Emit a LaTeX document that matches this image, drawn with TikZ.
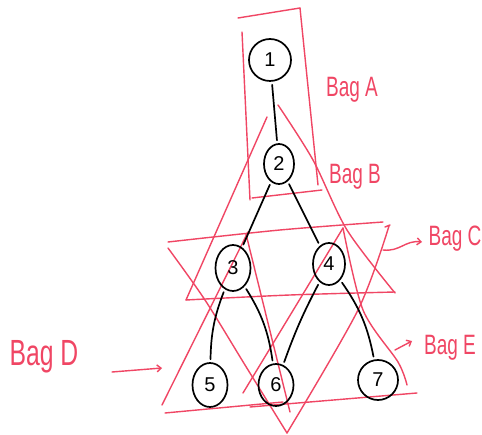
\documentclass[tikz,border=0pt]{standalone}
\usepackage{fontspec}
\setmainfont{Liberation Sans}
\usetikzlibrary{shapes.geometric,arrows.meta}
\definecolor{bagred}{RGB}{240,70,100}
\newcommand{\bagtxt}[1]{\scalebox{0.95}[1.4]{#1}}
\begin{document}
\begin{tikzpicture}[x=1pt,y=-1pt,
  bagline/.style={draw=bagred,line width=1.4pt,line cap=round,line join=round},
  vert/.style={ellipse,draw=black,line width=1.7pt,inner sep=0pt,font=\fontsize{20}{20}\selectfont},
  edge/.style={draw=black,line width=1.7pt,line cap=round,shorten >=3pt,shorten <=3pt},
  baglabel/.style={text=bagred,font=\fontsize{20}{20}\selectfont,inner sep=0pt},
  bagarrow/.style={bagline,-{Straight Barb[length=4pt,width=7pt]}}]
\useasboundingbox (0,0) rectangle (482,435);
\fill[white] (0,0) rectangle (482,435);

% Bag A (rectangle)
\draw[bagline] (238,18) -- (300,8);
\draw[bagline] (242,32) -- (250,200);
\draw[bagline] (300,8) -- (318,185);
\draw[bagline] (252,198) -- (322,190);

% Bag B (triangle 2,3,4)
\draw[bagline] (267,117) -- (186,300);
\draw[bagline] plot[smooth] coordinates {(278,105) (313,160) (347,230) (395,293)};
\draw[bagline] plot[smooth] coordinates {(186,300) (290,295) (395,292)};

% Bag C (inverted triangle 3,4,6)
\draw[bagline] plot[smooth] coordinates {(168,242) (280,230) (383,222)};
\draw[bagline] plot[smooth] coordinates {(168,248) (205,300) (245,365) (287,433)};
\draw[bagline] (385,227) -- (390,225);
\draw[bagline] plot[smooth] coordinates {(389,226) (358,310) (287,433)};

% Bag D (triangle 3,5,6)
\draw[bagline] (248,232) -- (162,405);
\draw[bagline] (246,234) -- (290,412);
\draw[bagline] (165,413) -- (283,402);

% Bag E (triangle 4,6,7)
\draw[bagline] (343,228) -- (243,393);
\draw[bagline] plot[smooth] coordinates {(343,228) (363,310) (398,362) (407,385)};
\draw[bagline] (250,407) -- (417,393);

% vertices
\node[vert,minimum width=42pt,minimum height=42pt] (n1) at (270,60) {1};
\node[vert,minimum width=30pt,minimum height=40pt] (n2) at (279,164) {2};
\node[vert,minimum width=35pt,minimum height=46pt] (n3) at (233,268) {3};
\node[vert,minimum width=32pt,minimum height=42pt] (n4) at (329,264) {4};
\node[vert,minimum width=35pt,minimum height=44pt] (n5) at (210,385) {5};
\node[vert,minimum width=35pt,minimum height=42pt] (n6) at (276,385) {6};
\node[vert,minimum width=40pt,minimum height=40pt] (n7) at (378,380) {7};

% edges
\draw[edge] (n1) -- (n2);
\draw[edge] (n2) -- (n3);
\draw[edge] (n2) -- (n4);
\draw[edge] (n3) to[bend right=10] (n5);
\draw[edge] (n3) to[bend left=12] (n6);
\draw[edge] (n4) to[bend right=4] (n6);
\draw[edge] (n4) to[bend left=12] (n7);

% labels
\node[baglabel] (la) at (352,90) {\bagtxt{Bag A}};
\node[baglabel] (lb) at (355,177) {\bagtxt{Bag B}};
\node[baglabel] (lc) at (455,239) {\bagtxt{Bag C}};
\node[baglabel,font=\fontsize{26}{26}\selectfont] (ld) at (44,357) {\bagtxt{Bag D}};
\node[baglabel] (le) at (450,348) {\bagtxt{Bag E}};

% label arrows
\coordinate (cs) at (383,250);
\coordinate (ce) at (422,242);
\draw[bagarrow] (cs) .. controls (400,252) and (405,240) .. (ce);
\coordinate (ds) at (112,372);
\coordinate (de) at (162,368);
\draw[bagarrow] (ds) -- (de);
\coordinate (es) at (395,350);
\coordinate (ee) at (412,341);
\draw[bagarrow] (es) -- (ee);
\end{tikzpicture}
\end{document}
